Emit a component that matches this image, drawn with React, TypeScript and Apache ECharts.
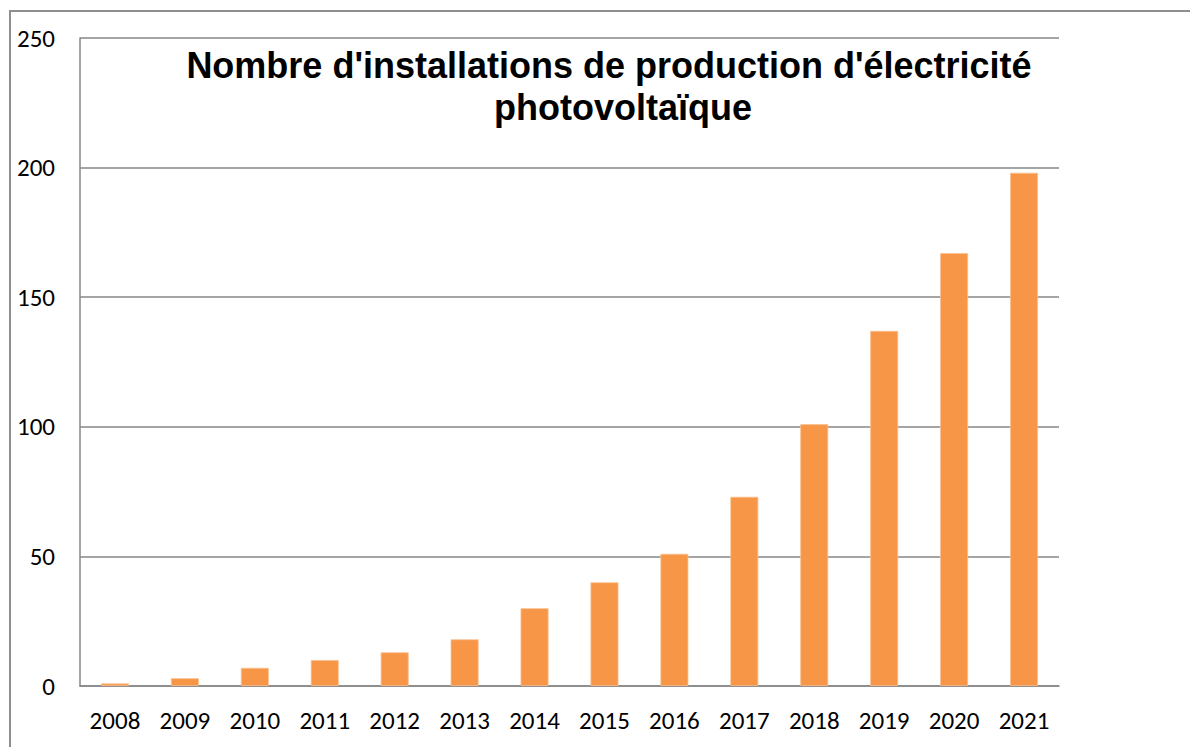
import React, { useEffect, useRef } from "react";
import * as echarts from "echarts";

const years = ["2008", "2009", "2010", "2011", "2012", "2013", "2014", "2015", "2016", "2017", "2018", "2019", "2020", "2021"];
const installations = [1, 3, 7, 10, 13, 18, 30, 40, 51, 73, 101, 137, 167, 198];
const titleLine1 = "Nombre d'installations de production d'électricité";
const titleLine2 = "photovoltaïque";

const labelFont = "Carlito, Calibri, Lato, sans-serif";
const gridColor = "#878787";

export default function App() {
  const ref = useRef<HTMLDivElement>(null);
  useEffect(() => {
    if (!ref.current) return;
    const chart = echarts.init(ref.current, undefined, { renderer: "svg" });
    chart.setOption({
      animation: false,
      backgroundColor: "#ffffff",
      title: [
        {
          text: titleLine1,
          left: 604,
          top: 42,
          textAlign: "center",
          textStyle: { fontFamily: "Liberation Sans, Arial, sans-serif", fontWeight: "bold", fontSize: 36, color: "#000" },
        },
        {
          text: titleLine2,
          left: 618,
          top: 84,
          textAlign: "center",
          textStyle: { fontFamily: "Liberation Sans, Arial, sans-serif", fontWeight: "bold", fontSize: 36, color: "#000" },
        },
      ],
      graphic: [
        {
          type: "rect",
          shape: { x: 10, y: 11, width: 1300, height: 900 },
          style: { fill: "none", stroke: "#8f8f8f", lineWidth: 2 },
          silent: true,
        },
      ],
      grid: { left: 80, right: 131, top: 38, bottom: 61, containLabel: false },
      xAxis: {
        type: "category",
        data: years,
        axisLine: { show: true, lineStyle: { color: gridColor, width: 1.5 } },
        axisTick: { show: false },
        axisLabel: { color: "#000", fontFamily: labelFont, fontSize: 25, margin: 22 },
      },
      yAxis: {
        type: "value",
        min: 0,
        max: 250,
        interval: 50,
        axisLine: { show: true, lineStyle: { color: gridColor, width: 1.5 } },
        axisTick: { show: false },
        axisLabel: { color: "#000", fontFamily: labelFont, fontSize: 25, margin: 25 },
        splitLine: { show: true, lineStyle: { color: gridColor, width: 1.5 } },
      },
      series: [
        {
          type: "bar",
          data: installations,
          barWidth: "40%",
          itemStyle: { color: "#F79646", borderColor: "#FAC090", borderWidth: 0.8 },
        },
      ],
    });
    return () => chart.dispose();
  }, []);
  return <div ref={ref} style={{ position: "fixed", left: 0, top: 0, width: 1190, height: 747 }} />;
}
